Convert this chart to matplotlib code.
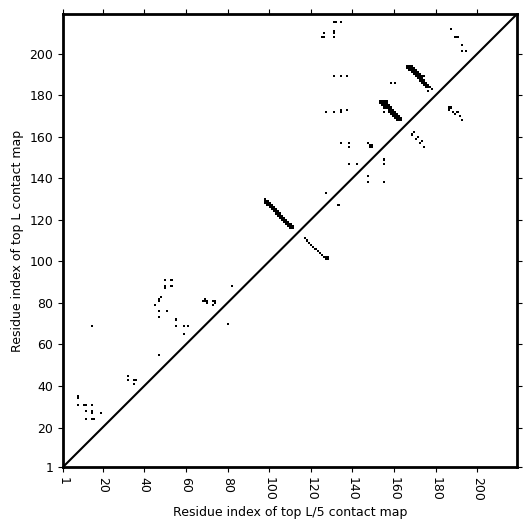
import numpy as np
import matplotlib
matplotlib.use('Agg')
import matplotlib.pyplot as plt

plt.rcParams['font.size'] = 9

L = 219
ticks = [1, 20, 40, 60, 80, 100, 120, 140, 160, 180, 200]

# top L contacts (upper triangle)
upper_x = [8, 8, 8, 11, 12, 15, 12, 15, 15, 19, 12, 15, 16,
           32, 32, 35, 36, 35,
           15, 47, 47, 47, 45, 47, 47, 48, 50, 50, 50, 53, 53, 51, 55, 55, 59, 61, 59,
           68, 69, 69, 70, 70, 73, 74, 74, 73, 82,
           98, 98, 98, 99, 99, 99, 100, 100, 100, 101, 101, 101, 102, 102, 102,
           103, 103, 103, 104, 104, 104, 105, 105, 105, 106, 106, 106,
           107, 107, 107, 108, 108, 108, 109, 109, 109, 110, 110, 110, 111, 111,
           126, 125, 126, 131, 131, 131, 131, 132, 134,
           131, 134, 137, 127, 131, 134, 134, 137,
           134, 138, 138, 138, 142, 127,
           147, 148, 149, 148, 149,
           153, 153, 154, 154, 154, 155, 155, 155, 155, 156, 156, 156, 156,
           157, 157, 157, 157, 158, 158, 158, 158, 159, 159, 159, 159,
           160, 160, 160, 160, 161, 161, 161, 161, 162, 162, 162, 163, 163,
           155, 158, 160,
           166, 166, 167, 167, 167, 168, 168, 168, 168, 169, 169, 169, 169,
           170, 170, 170, 170, 171, 171, 171, 171, 172, 172, 172, 172,
           173, 173, 173, 173, 174, 174, 174, 175, 175, 175, 176, 176, 177, 178,
           174, 176,
           187, 189, 190, 192, 192, 194]
upper_y = [35, 34, 31, 31, 31, 31, 28, 28, 27, 27, 24, 24, 24,
           45, 43, 43, 43, 41,
           69, 55, 76, 73, 79, 82, 81, 83, 91, 88, 87, 91, 88, 76, 72, 69, 69, 69, 65,
           81, 81, 82, 81, 80, 81, 81, 80, 79, 88,
           128, 129, 130, 127, 128, 129, 126, 127, 128, 125, 126, 127, 124, 125, 126,
           123, 124, 125, 122, 123, 124, 121, 122, 123, 120, 121, 122,
           119, 120, 121, 118, 119, 120, 117, 118, 119, 116, 117, 118, 116, 117,
           210, 208, 208, 211, 210, 208, 215, 215, 215,
           189, 189, 189, 172, 172, 173, 172, 173,
           157, 157, 155, 147, 147, 133,
           157, 156, 156, 155, 155,
           176, 177, 175, 176, 177, 174, 175, 176, 177, 174, 175, 176, 177,
           172, 173, 174, 175, 171, 172, 173, 174, 170, 171, 172, 173,
           169, 170, 171, 172, 168, 169, 170, 171, 168, 169, 170, 168, 169,
           172, 186, 186,
           193, 194, 192, 193, 194, 191, 192, 193, 194, 190, 191, 192, 193,
           189, 190, 191, 192, 188, 189, 190, 191, 187, 188, 189, 190,
           186, 187, 188, 189, 185, 186, 187, 184, 185, 186, 184, 185, 184, 183,
           189, 182,
           212, 208, 208, 204, 201, 201]

# top L/5 contacts (lower triangle)
lower_x = [80, 133,
           117, 118, 119, 120, 121, 122, 123, 124, 125, 126, 127, 127, 128, 128,
           147, 147, 155, 155, 155,
           169, 168, 170, 171, 172, 173, 174,
           186, 187, 186, 188, 190, 189, 191, 192]
lower_y = [70, 127,
           111, 110, 109, 108, 107, 106, 105, 104, 103, 102, 101, 102, 101, 102,
           141, 138, 138, 149, 147,
           162, 161, 159, 160, 157, 158, 155,
           174, 174, 173, 172, 172, 171, 170, 168]

cmap = np.zeros((L, L))
for x, y in zip(upper_x + lower_x, upper_y + lower_y):
    cmap[y - 1, x - 1] = 1

fig = plt.figure(figsize=(5.31, 5.31), dpi=100)
ax = fig.add_axes([0.1186, 0.1205, 0.855, 0.853])
ax.imshow(cmap, cmap='Greys', origin='lower', vmin=0, vmax=1,
          extent=(0.5, L + 0.5, 0.5, L + 0.5), interpolation='nearest', aspect='auto')
ax.plot([1, L], [1, L], color='black', lw=1.5)
ax.set_xlim(1, L)
ax.set_ylim(1, L)
ax.set_xticks(ticks)
ax.set_yticks(ticks)
ax.tick_params(top=True, right=True, labeltop=False, labelright=False)
plt.setp(ax.get_xticklabels(), rotation=270)
for s in ax.spines.values():
    s.set_linewidth(2)
ax.set_xlabel('Residue index of top L/5 contact map')
ax.set_ylabel('Residue index of top L contact map')

fig.savefig('out.png', dpi=100)
